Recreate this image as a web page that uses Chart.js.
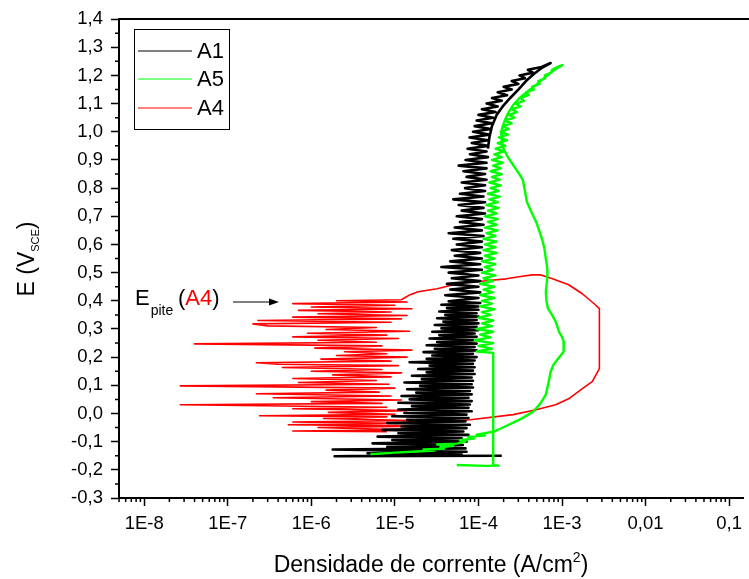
<!DOCTYPE html>
<html lang="pt">
<head>
<meta charset="utf-8">
<title>Polarização cíclica</title>
<script src="https://cdn.jsdelivr.net/npm/chart.js"></script>
<style>
  html, body { margin: 0; padding: 0; background: #fff; overflow: hidden; }
  canvas { display: block; }
</style>
</head>
<body>
<canvas id="graficoPol" width="749" height="579"></canvas>
<script>
// === Eixos ===
var xTickValues = [1e-8, 1e-7, 1e-6, 1e-5, 1e-4, 1e-3, 1e-2, 1e-1];
var xTickLabels = ['1E-8', '1E-7', '1E-6', '1E-5', '1E-4', '1E-3', '0,01', '0,1'];
var yTickValues = [-0.3, -0.2, -0.1, 0.0, 0.1, 0.2, 0.3, 0.4, 0.5, 0.6, 0.7, 0.8, 0.9, 1.0, 1.1, 1.2, 1.3, 1.4];

// === A1 (preto) - potencial (V) e densidade de corrente (A/cm2) ===
var a1E = [
  -0.150,-0.152,-0.146,-0.141,-0.136,-0.128,-0.124,-0.118,-0.112,-0.106,
  -0.100,-0.094,-0.088,-0.082,-0.076,-0.070,-0.064,-0.058,-0.052,-0.046,
  -0.040,-0.034,-0.028,-0.022,-0.016,-0.010,-0.004,0.002,0.008,0.014,
  0.020,0.026,0.032,0.038,0.044,0.050,0.056,0.062,0.068,0.074,
  0.080,0.086,0.092,0.098,0.104,0.110,0.116,0.122,0.128,0.134,
  0.140,0.146,0.152,0.158,0.164,0.170,0.176,0.182,0.188,0.194,
  0.200,0.206,0.212,0.218,0.224,0.230,0.236,0.242,0.248,0.254,
  0.260,0.266,0.272,0.278,0.284,0.290,0.296,0.302,0.308,0.314,
  0.320,0.326,0.332,0.338,0.344,0.350,0.356,0.362,0.368,0.374,
  0.380,0.386,0.392,0.398,0.41,0.42,0.43,0.44,0.45,0.46,
  0.47,0.48,0.49,0.50,0.51,0.52,0.53,0.54,0.55,0.56,
  0.57,0.58,0.59,0.60,0.61,0.62,0.63,0.64,0.65,0.66,
  0.67,0.68,0.69,0.70,0.71,0.72,0.73,0.74,0.75,0.76,
  0.77,0.78,0.79,0.80,0.81,0.82,0.83,0.84,0.85,0.86,
  0.87,0.88,0.89,0.90,0.91,0.92,0.93,0.94,0.95,0.96,
  0.97,0.98,0.99,1.00,1.01,1.02,1.03,1.04,1.05,1.06,
  1.07,1.08,1.09,1.10,1.11,1.12,1.13,1.14,1.15,1.16,
  1.17,1.18,1.19,1.20,1.21,1.22,1.23,1.244,1.225,1.205,
  1.18,1.15,1.12,1.09,1.06,1.02,0.98,0.94
];
var a1J = [
  1.9e-4,1.9e-6,6.3e-5,4.7e-6,7.2e-5,1.8e-6,7.0e-5,8.1e-6,6.5e-5,5.4e-6,
  7.2e-5,9.3e-6,6.3e-5,6.2e-6,7.6e-5,1.1e-5,6.6e-5,7.1e-6,7.2e-5,1.2e-5,
  7.9e-5,8.1e-6,7.0e-5,1.4e-5,7.6e-5,9.3e-6,7.2e-5,1.3e-5,8.3e-5,1.1e-5,
  7.6e-5,1.6e-5,7.9e-5,1.1e-5,8.3e-5,1.5e-5,7.6e-5,1.2e-5,8.3e-5,1.8e-5,
  7.9e-5,1.4e-5,8.6e-5,2.0e-5,8.3e-5,1.3e-5,8.6e-5,2.1e-5,8.3e-5,1.6e-5,
  9.0e-5,2.4e-5,8.6e-5,1.9e-5,9.0e-5,2.6e-5,8.6e-5,1.5e-5,9.0e-5,2.4e-5,
  9.5e-5,2.8e-5,8.6e-5,2.2e-5,9.5e-5,3.0e-5,9.0e-5,2.4e-5,9.5e-5,3.2e-5,
  9.0e-5,2.6e-5,9.5e-5,3.4e-5,9.0e-5,2.8e-5,1.0e-4,3.6e-5,9.5e-5,3.0e-5,
  1.0e-4,3.8e-5,9.5e-5,3.2e-5,1.0e-4,4.0e-5,9.5e-5,3.4e-5,1.0e-4,4.2e-5,
  1.0e-4,3.6e-5,1.05e-4,4.4e-5,1.0e-4,4.0e-5,1.05e-4,4.6e-5,1.0e-4,4.2e-5,
  1.05e-4,4.8e-5,1.0e-4,4.4e-5,1.1e-4,3.6e-5,1.05e-4,4.6e-5,1.1e-4,5.2e-5,
  1.05e-4,4.8e-5,1.1e-4,5.5e-5,1.1e-4,5.0e-5,1.15e-4,4.4e-5,1.1e-4,5.2e-5,
  1.15e-4,6.0e-5,1.1e-4,5.5e-5,1.2e-4,6.3e-5,1.15e-4,5.8e-5,1.2e-4,5.0e-5,
  1.15e-4,6.0e-5,1.2e-4,6.9e-5,1.2e-4,6.3e-5,1.25e-4,7.2e-5,1.2e-4,6.6e-5,
  1.25e-4,5.8e-5,1.25e-4,7.0e-5,1.3e-4,7.9e-5,1.25e-4,7.4e-5,1.3e-4,8.3e-5,
  1.3e-4,7.8e-5,1.35e-4,8.6e-5,1.4e-4,9.0e-5,1.45e-4,9.5e-5,1.5e-4,1.0e-4,
  1.6e-4,1.1e-4,1.7e-4,1.25e-4,1.9e-4,1.45e-4,2.2e-4,1.7e-4,2.5e-4,2.0e-4,
  3.0e-4,2.5e-4,3.6e-4,3.1e-4,4.5e-4,3.9e-4,5.7e-4,7.3e-4,5.6e-4,4.6e-4,
  3.7e-4,3.0e-4,2.4e-4,1.95e-4,1.65e-4,1.45e-4,1.35e-4,1.3e-4
];

// === A5 (verde) ===
var a5E = [
  -0.183,-0.186,-0.185,-0.184,0.215,0.22,0.23,0.24,0.25,0.26,
  0.27,0.28,0.29,0.30,0.31,0.32,0.33,0.34,0.35,0.36,
  0.37,0.38,0.39,0.40,0.41,0.42,0.43,0.44,0.45,0.46,
  0.47,0.48,0.49,0.50,0.51,0.52,0.53,0.54,0.55,0.56,
  0.57,0.58,0.59,0.60,0.61,0.62,0.63,0.64,0.65,0.66,
  0.67,0.68,0.69,0.70,0.71,0.72,0.73,0.74,0.75,0.76,
  0.77,0.78,0.79,0.80,0.81,0.82,0.83,0.84,0.85,0.86,
  0.87,0.88,0.89,0.90,0.91,0.92,0.93,0.94,0.95,0.96,
  0.97,0.98,0.99,1.00,1.01,1.02,1.03,1.04,1.05,1.06,
  1.07,1.08,1.09,1.10,1.11,1.12,1.13,1.14,1.15,1.16,
  1.17,1.18,1.19,1.20,1.21,1.22,1.23,1.237,1.223,1.205,
  1.187,1.165,1.141,1.12,1.095,1.07,1.045,1.02,0.999,0.97,
  0.939,0.91,0.882,0.855,0.829,0.79,0.751,0.715,0.68,0.645,
  0.609,0.58,0.549,0.525,0.503,0.47,0.432,0.40,0.372,0.35,
  0.326,0.308,0.29,0.272,0.255,0.235,0.219,0.195,0.173,0.148,
  0.11,0.067,0.035,0.006,-0.02,-0.04,-0.055,-0.065,-0.075,-0.078,
  -0.083,-0.089,-0.095,-0.100,-0.107,-0.110,-0.115,-0.120,-0.125,-0.128,
  -0.132,-0.135,-0.139,-0.143,-0.144
];
var a5J = [
  5.5e-5,1.2e-4,1.75e-4,1.5e-4,1.5e-4,9.5e-5,1.45e-4,1.0e-4,1.5e-4,9.0e-5,
  1.4e-4,1.05e-4,1.5e-4,9.5e-5,1.45e-4,1.1e-4,1.5e-4,1.0e-4,1.4e-4,1.1e-4,
  1.55e-4,1.05e-4,1.45e-4,1.1e-4,1.55e-4,1.05e-4,1.5e-4,1.15e-4,1.55e-4,1.05e-4,
  1.5e-4,1.15e-4,1.6e-4,1.1e-4,1.5e-4,1.2e-4,1.6e-4,1.1e-4,1.55e-4,1.2e-4,
  1.65e-4,1.15e-4,1.6e-4,1.2e-4,1.65e-4,1.15e-4,1.6e-4,1.25e-4,1.7e-4,1.2e-4,
  1.65e-4,1.3e-4,1.7e-4,1.2e-4,1.65e-4,1.3e-4,1.75e-4,1.25e-4,1.7e-4,1.35e-4,
  1.8e-4,1.3e-4,1.75e-4,1.4e-4,1.85e-4,1.35e-4,1.8e-4,1.45e-4,1.9e-4,1.4e-4,
  1.85e-4,1.5e-4,1.95e-4,1.45e-4,1.9e-4,1.55e-4,2.0e-4,1.6e-4,2.1e-4,1.7e-4,
  2.2e-4,1.75e-4,2.25e-4,1.85e-4,2.3e-4,1.95e-4,2.5e-4,2.05e-4,2.7e-4,2.3e-4,
  2.9e-4,2.5e-4,3.2e-4,2.8e-4,3.5e-4,3.2e-4,4.0e-4,3.7e-4,4.6e-4,4.4e-4,
  5.4e-4,5.2e-4,6.3e-4,6.2e-4,7.4e-4,7.6e-4,8.8e-4,1.02e-3,8.4e-4,7.0e-4,
  5.9e-4,4.8e-4,3.8e-4,3.1e-4,2.6e-4,2.3e-4,2.1e-4,1.95e-4,1.87e-4,1.9e-4,
  2.0e-4,2.25e-4,2.6e-4,3.0e-4,3.4e-4,3.6e-4,3.8e-4,4.3e-4,4.9e-4,5.4e-4,
  5.9e-4,6.2e-4,6.4e-4,6.6e-4,6.7e-4,6.6e-4,6.4e-4,6.5e-4,6.8e-4,7.6e-4,
  8.4e-4,8.8e-4,9.2e-4,1.0e-3,1.05e-3,1.05e-3,1.04e-3,9.0e-4,7.9e-4,7.3e-4,
  6.9e-4,6.4e-4,5.5e-4,4.5e-4,3.2e-4,2.3e-4,1.8e-4,1.5e-4,9.5e-5,1.2e-4,
  7.5e-5,8.8e-5,6.0e-5,7.0e-5,5.5e-5,3.2e-5,5.0e-5,3.5e-5,3.9e-5,2.2e-5,
  3.0e-5,1.8e-5,1.0e-5,6.2e-6,5.1e-6
];

// === A4 (vermelho) ===
var a4E = [
  -0.065,-0.062,-0.058,-0.050,-0.045,-0.040,-0.035,-0.030,-0.025,-0.018,
  -0.012,-0.008,-0.003,0.004,0.010,0.017,0.022,0.031,0.036,0.042,
  0.048,0.056,0.062,0.070,0.076,0.083,0.090,0.098,0.104,0.110,
  0.117,0.124,0.130,0.137,0.144,0.150,0.156,0.163,0.170,0.175,
  0.180,0.186,0.193,0.200,0.206,0.212,0.219,0.225,0.232,0.240,
  0.247,0.253,0.260,0.266,0.272,0.278,0.285,0.292,0.298,0.305,
  0.311,0.318,0.324,0.330,0.336,0.342,0.348,0.354,0.360,0.366,
  0.372,0.378,0.384,0.390,0.396,0.400,0.404,0.41,0.421,0.432,
  0.443,0.457,0.464,0.471,0.478,0.486,0.492,0.492,0.478,0.457,
  0.425,0.386,0.372,0.159,0.113,0.088,0.052,0.031,0.013,-0.004,
  -0.022,-0.029,-0.030
];
var a4J = [
  8.0e-6,6.0e-7,1.3e-5,1.2e-6,2.0e-5,5.3e-7,1.1e-5,6.0e-7,1.6e-5,1.4e-6,
  8.0e-6,2.4e-7,1.0e-5,1.6e-6,1.4e-5,6.0e-7,8.0e-6,2.7e-8,7.0e-6,1.0e-6,
  1.2e-5,3.5e-7,9.0e-6,2.2e-7,6.5e-6,1.5e-6,1.0e-5,2.7e-8,8.5e-6,7.0e-7,
  6.0e-6,6.0e-7,9.0e-6,1.8e-6,1.2e-5,1.0e-6,7.0e-6,4.5e-7,1.1e-5,4.0e-7,
  2.2e-7,9.0e-6,1.3e-6,1.4e-5,2.0e-6,8.0e-6,2.5e-6,1.6e-5,1.1e-6,7.0e-6,
  4.0e-8,6.0e-6,1.2e-6,1.1e-5,6.0e-7,8.0e-6,9.0e-7,1.5e-5,1.5e-6,6.0e-6,
  3.0e-7,2.0e-7,9.0e-6,2.3e-7,1.2e-5,6.0e-7,1.4e-5,1.2e-6,9.0e-6,7.0e-7,
  1.6e-5,1.0e-6,1.0e-5,6.0e-7,1.4e-5,2.0e-6,1.2e-5,1.3e-5,1.5e-5,1.9e-5,
  3.2e-5,5.0e-5,7.0e-5,1.24e-4,2.15e-4,3.2e-4,4.4e-4,5.6e-4,7.7e-4,1.2e-3,
  1.75e-3,2.5e-3,2.8e-3,2.8e-3,2.3e-3,1.75e-3,1.2e-3,8.4e-4,4.9e-4,2.6e-4,
  8.0e-5,3.7e-5,1.4e-5
];

var FONTE = '"Liberation Sans", Arial, Helvetica, sans-serif';

function pontos(js, es) {
  var n = Math.min(js.length, es.length);
  var out = [];
  for (var i = 0; i < n; i++) out.push({ x: js[i], y: es[i] });
  return out;
}

// === Plugin: moldura, ticks menores, legenda, títulos e anotação ===
var decoracao = {
  id: 'decoracao',
  afterDraw: function (chart) {
    var ctx = chart.ctx;
    var area = chart.chartArea;
    var sx = chart.scales.x;
    var sy = chart.scales.y;
    ctx.save();

    // linha superior da moldura
    ctx.strokeStyle = '#000';
    ctx.lineWidth = 2;
    ctx.beginPath();
    ctx.moveTo(area.left - 1, area.top);
    ctx.lineTo(chart.width, area.top);
    ctx.stroke();

    // ticks menores
    ctx.lineWidth = 1.5;
    ctx.beginPath();
    var decadas = [1e-9].concat(xTickValues);
    decadas.forEach(function (d) {
      for (var k = 2; k <= 9; k++) {
        var v = d * k;
        if (v < sx.min || v > sx.max) continue;
        var px = sx.getPixelForValue(v);
        ctx.moveTo(px, area.bottom);
        ctx.lineTo(px, area.bottom + 4);
      }
    });
    yTickValues.forEach(function (t) {
      var v = t + 0.05;
      if (v > sy.max) return;
      var py = sy.getPixelForValue(v);
      ctx.moveTo(area.left, py);
      ctx.lineTo(area.left - 4, py);
    });
    ctx.stroke();

    // legenda
    ctx.lineWidth = 1;
    ctx.strokeStyle = '#000';
    ctx.strokeRect(134.5, 29.5, 95, 100);
    var linhasY = [51, 79, 108];
    ctx.font = '22px ' + FONTE;
    ctx.textBaseline = 'middle';
    ctx.textAlign = 'left';
    chart.data.datasets.forEach(function (ds, i) {
      ctx.strokeStyle = ds.borderColor;
      ctx.lineWidth = 1.2;
      ctx.beginPath();
      ctx.moveTo(138, linhasY[i]);
      ctx.lineTo(192, linhasY[i]);
      ctx.stroke();
      ctx.fillStyle = '#000';
      ctx.fillText(ds.label, 197, linhasY[i] + 1);
    });

    // título do eixo Y: E (V_SCE)
    ctx.save();
    ctx.translate(34, 259);
    ctx.rotate(-Math.PI / 2);
    ctx.fillStyle = '#000';
    ctx.textBaseline = 'alphabetic';
    ctx.font = '23px ' + FONTE;
    var w1 = ctx.measureText('E (V').width;
    var w3 = ctx.measureText(')').width;
    ctx.font = '11px ' + FONTE;
    var w2 = ctx.measureText('SCE').width;
    var x0 = -(w1 + w2 + w3) / 2;
    ctx.font = '23px ' + FONTE;
    ctx.fillText('E (V', x0, 0);
    ctx.fillText(')', x0 + w1 + w2, 0);
    ctx.font = '11px ' + FONTE;
    ctx.fillText('SCE', x0 + w1, 5);
    ctx.restore();

    // título do eixo X: Densidade de corrente (A/cm²)
    ctx.fillStyle = '#000';
    ctx.textBaseline = 'alphabetic';
    ctx.font = '23px ' + FONTE;
    var t1 = 'Densidade de corrente (A/cm';
    var tw1 = ctx.measureText(t1).width;
    var tw3 = ctx.measureText(')').width;
    ctx.font = '14px ' + FONTE;
    var tw2 = ctx.measureText('2').width;
    var cx = (area.left + area.right) / 2;
    var xs = cx - (tw1 + tw2 + tw3) / 2;
    ctx.font = '23px ' + FONTE;
    ctx.fillText(t1, xs, 572);
    ctx.fillText(')', xs + tw1 + tw2, 572);
    ctx.font = '14px ' + FONTE;
    ctx.fillText('2', xs + tw1, 562);

    // anotação E_pite (A4)
    var ax = 135, ay = 305;
    ctx.font = '22px ' + FONTE;
    ctx.fillText('E', ax, ay);
    ax += ctx.measureText('E').width + 1;
    ctx.font = '14px ' + FONTE;
    ctx.fillText('pite', ax, ay + 10);
    ax = 178;
    ctx.font = '22px ' + FONTE;
    ctx.fillText('(', ax, ay);
    ax += ctx.measureText('(').width;
    ctx.fillStyle = '#ff0000';
    ctx.fillText('A4', ax, ay);
    ax += ctx.measureText('A4').width;
    ctx.fillStyle = '#000';
    ctx.fillText(')', ax, ay);

    // seta
    ctx.strokeStyle = '#000';
    ctx.lineWidth = 1.2;
    ctx.beginPath();
    ctx.moveTo(233, 302);
    ctx.lineTo(270, 302);
    ctx.stroke();
    ctx.beginPath();
    ctx.moveTo(279, 302);
    ctx.lineTo(269, 298.5);
    ctx.lineTo(269, 305.5);
    ctx.closePath();
    ctx.fill();

    ctx.restore();
  }
};

// === GRÁFICO ===
var ctxPol = document.getElementById('graficoPol');
new Chart(ctxPol, {
  type: 'line',
  data: {
    datasets: [
      { label: 'A1', data: pontos(a1J, a1E), borderColor: '#000000', borderWidth: 2.6, order: 1 },
      { label: 'A5', data: pontos(a5J, a5E), borderColor: '#00ff00', borderWidth: 2.4, order: 0 },
      { label: 'A4', data: pontos(a4J, a4E), borderColor: '#ff0000', borderWidth: 1.6, order: 2 }
    ]
  },
  options: {
    responsive: false,
    animation: false,
    events: [],
    layout: { padding: { top: 17, left: 0, right: 0, bottom: 0 } },
    elements: {
      point: { radius: 0 },
      line: { tension: 0, fill: false, borderJoinStyle: 'round' }
    },
    plugins: {
      legend: { display: false },
      tooltip: { enabled: false }
    },
    scales: {
      x: {
        type: 'logarithmic',
        position: 'bottom',
        min: 4.99e-9,
        max: 0.1466,
        border: { display: true, color: '#000', width: 2 },
        grid: { drawOnChartArea: false, drawTicks: true, tickLength: 8, tickColor: '#000', tickWidth: 1.5 },
        ticks: {
          color: '#000',
          font: { family: FONTE, size: 18.5 },
          padding: 7,
          autoSkip: false,
          maxRotation: 0,
          callback: function (v, i) { return xTickLabels[i]; }
        },
        afterBuildTicks: function (s) {
          s.ticks = xTickValues.map(function (v) { return { value: v }; });
        },
        afterFit: function (s) { s.height = 81; }
      },
      y: {
        type: 'linear',
        position: 'left',
        min: -0.3,
        max: 1.4,
        border: { display: true, color: '#000', width: 2 },
        grid: { drawOnChartArea: false, drawTicks: true, tickLength: 8, tickColor: '#000', tickWidth: 1.5 },
        ticks: {
          color: '#000',
          font: { family: FONTE, size: 18.5 },
          padding: 8,
          callback: function (v) {
            var r = Math.abs(v) < 1e-9 ? 0 : v;
            return r.toFixed(1).replace('.', ',');
          }
        },
        afterBuildTicks: function (s) {
          s.ticks = yTickValues.map(function (v) { return { value: v }; });
        },
        afterFit: function (s) { s.width = 119; }
      }
    }
  },
  plugins: [decoracao]
});
</script>
</body>
</html>
